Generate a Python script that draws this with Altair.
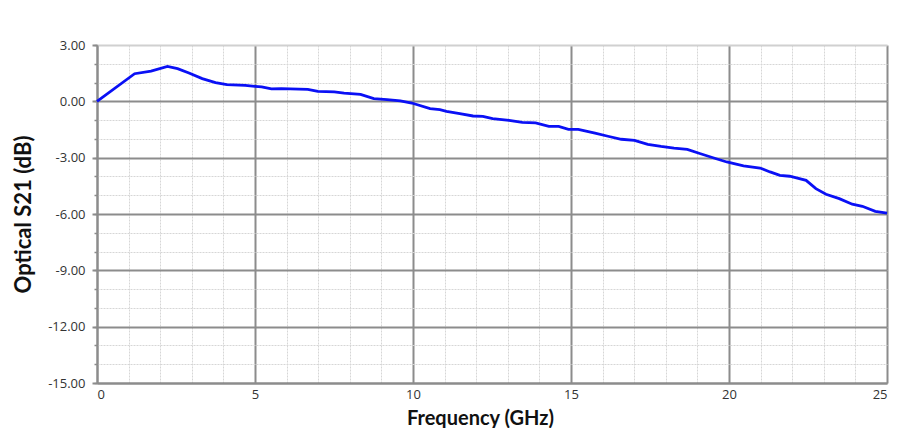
import altair as alt
import pandas as pd

freq = [0.0, 1.19, 1.71, 2.23, 2.55, 2.91, 3.33, 3.75, 4.11, 4.69, 5.0, 5.21, 5.52, 5.83,
        6.67, 6.99, 7.51, 7.82, 8.34, 8.76, 9.18, 9.6, 9.96, 10.54, 10.85, 11.06, 11.48,
        11.9, 12.21, 12.52, 13.04, 13.46, 13.88, 14.3, 14.61, 14.92, 15.23, 15.76, 16.17,
        16.59, 17.01, 17.43, 17.85, 18.26, 18.68, 19.1, 19.52, 19.93, 20.46, 20.98, 21.3,
        21.61, 21.92, 22.44, 22.75, 23.07, 23.49, 23.9, 24.22, 24.63, 25.0]
s21 = [0.0, 1.47, 1.61, 1.86, 1.74, 1.51, 1.21, 1.0, 0.89, 0.85, 0.80, 0.77, 0.66, 0.68,
       0.64, 0.53, 0.50, 0.44, 0.37, 0.14, 0.09, 0.02, -0.09, -0.39, -0.44, -0.53, -0.66,
       -0.78, -0.80, -0.92, -1.01, -1.12, -1.15, -1.33, -1.33, -1.49, -1.49, -1.69, -1.86,
       -2.02, -2.08, -2.29, -2.40, -2.49, -2.56, -2.79, -3.02, -3.23, -3.44, -3.55, -3.76,
       -3.94, -3.99, -4.21, -4.65, -4.95, -5.18, -5.48, -5.59, -5.86, -5.95]

x_minor = list(range(0, 26))
x_major = [0, 5, 10, 15, 20, 25]
y_minor = list(range(-15, 4))
y_major = [-15, -12, -9, -6, -3, 0, 3]

df = pd.DataFrame({"f": freq, "s": s21})

xscale = alt.Scale(domain=[0, 25], nice=False, zero=False)
yscale = alt.Scale(domain=[-15, 3], nice=False, zero=False)

minor = alt.Chart(df).mark_line(opacity=0).encode(
    x=alt.X("f:Q", scale=xscale, axis=alt.Axis(
        values=x_minor, grid=True, gridColor="#d6d6d6", gridDash=[2, 1], gridWidth=1,
        labels=False, ticks=False, domain=False, title=None, orient="bottom")),
    y=alt.Y("s:Q", scale=yscale, axis=alt.Axis(
        values=y_minor, grid=True, gridColor="#d6d6d6", gridDash=[2, 1], gridWidth=1,
        labels=False, ticks=True, tickSize=3, tickColor="#8c8c8c", tickWidth=1.5,
        domain=False, title=None, orient="left")),
)

main = alt.Chart(df).mark_line(color="#0a10f5", strokeWidth=2.8).encode(
    x=alt.X("f:Q", scale=xscale, axis=alt.Axis(
        values=x_major, grid=True, gridColor="#8c8c8c", gridWidth=2,
        labels=True, labelFont="Open Sans", labelFontSize=13, labelColor="#333333",
        labelPadding=5, ticks=False, domain=True, domainColor="#8c8c8c", domainWidth=2,
        title="Frequency (GHz)", titleFont="Lato", titleFontSize=20,
        titleFontWeight="bold", titleColor="#111111", titleBaseline="alphabetic",
        titleX=383, titleY=41, orient="bottom")),
    y=alt.Y("s:Q", scale=yscale, axis=alt.Axis(
        values=y_major, format=".2f",
        labelExpr="replace(format(datum.value, '.2f'), '\u2212', '-')",
        grid=True,
        gridColor=alt.condition("datum.value == 3", alt.value("#d0d0d0"), alt.value("#8c8c8c")),
        gridWidth=2, labels=True, labelFont="Open Sans", labelFontSize=13,
        labelColor="#333333", labelPadding=7, ticks=True, tickSize=5, tickColor="#8c8c8c",
        tickWidth=2, domain=True, domainColor="#8c8c8c", domainWidth=2,
        title="Optical S21 (dB)", titleFont="Lato", titleFontSize=22,
        titleFontWeight="bold", titleColor="#111111", titleBaseline="alphabetic",
        titleX=-67, orient="left")),
)

chart = alt.layer(minor, main).resolve_axis(x="independent", y="independent").properties(
    width=790, height=338,
    autosize=alt.AutoSizeParams(type="none"),
    padding={"left": 89, "top": 37, "right": 2, "bottom": 45},
).configure_view(stroke=None).configure(background="white")

chart.save("out.html", embed_options={"renderer": "svg", "actions": False})
